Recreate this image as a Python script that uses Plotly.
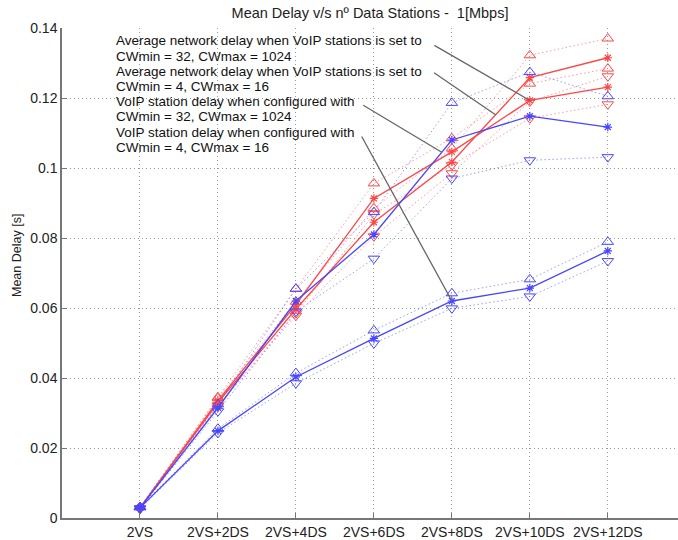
import plotly.graph_objects as go

categories = ["2VS", "2VS+2DS", "2VS+4DS", "2VS+6DS", "2VS+8DS", "2VS+10DS", "2VS+12DS"]
xpos = [1, 2, 3, 4, 5, 6, 7]

# Average network delay, VoIP CWmin=32, CWmax=1024
net_cw32_mean = [0.0029, 0.0335, 0.0610, 0.0913, 0.1046, 0.1193, 0.1231]
net_cw32_up   = [0.0031, 0.0345, 0.0655, 0.0956, 0.1085, 0.1241, 0.1284]
net_cw32_down = [0.0027, 0.0322, 0.0585, 0.0868, 0.1008, 0.1142, 0.1182]

# Average network delay, VoIP CWmin=4, CWmax=16
net_cw4_mean = [0.0029, 0.0330, 0.0597, 0.0845, 0.1017, 0.1258, 0.1315]
net_cw4_up   = [0.0031, 0.0342, 0.0618, 0.0885, 0.1056, 0.1322, 0.1370]
net_cw4_down = [0.0027, 0.0320, 0.0578, 0.0805, 0.0985, 0.1190, 0.1262]

# VoIP station delay, CWmin=32, CWmax=1024
voip_cw32_mean = [0.0029, 0.0315, 0.0620, 0.0810, 0.1080, 0.1148, 0.1117]
voip_cw32_up   = [0.0031, 0.0325, 0.0655, 0.0874, 0.1186, 0.1274, 0.1205]
voip_cw32_down = [0.0027, 0.0305, 0.0590, 0.0741, 0.0970, 0.1022, 0.1031]

# VoIP station delay, CWmin=4, CWmax=16
voip_cw4_mean = [0.0029, 0.0249, 0.0403, 0.0513, 0.0620, 0.0657, 0.0763]
voip_cw4_up   = [0.0031, 0.0255, 0.0414, 0.0536, 0.0642, 0.0682, 0.0789]
voip_cw4_down = [0.0027, 0.0243, 0.0385, 0.0499, 0.0599, 0.0633, 0.0734]

note_lines = [
    "Average network delay when VoIP stations is set to",
    "CWmin = 32, CWmax = 1024",
    "Average network delay when VoIP stations is set to",
    "CWmin = 4, CWmax = 16",
    "VoIP station delay when configured with",
    "CWmin = 32, CWmax = 1024",
    "VoIP station delay when configured with",
    "CWmin = 4, CWmax = 16",
]

RED = "rgb(255,70,70)"
RED_L = "rgba(255,90,90,0.6)"
BLUE = "rgb(70,70,255)"
BLUE_L = "rgba(90,90,255,0.6)"
FONT = "Liberation Sans, Arial, sans-serif"
DOT = "1.5px,2.5px"

fig = go.Figure()


def add_group(mean, up, down, col, col_l):
    fig.add_trace(go.Scatter(x=xpos, y=up, mode="lines+markers",
                             line=dict(color=col_l, width=1, dash=DOT),
                             marker=dict(symbol="triangle-up-open", size=10,
                                         color=col, line=dict(width=1, color=col))))
    fig.add_trace(go.Scatter(x=xpos, y=down, mode="lines+markers",
                             line=dict(color=col_l, width=1, dash=DOT),
                             marker=dict(symbol="triangle-down-open", size=10,
                                         color=col, line=dict(width=1, color=col))))
    fig.add_trace(go.Scatter(x=xpos, y=mean, mode="lines+markers",
                             line=dict(color=col, width=1.3),
                             marker=dict(symbol="asterisk-open", size=7,
                                         color=col, line=dict(width=1.2, color=col))))


add_group(net_cw32_mean, net_cw32_up, net_cw32_down, RED, RED_L)
add_group(net_cw4_mean, net_cw4_up, net_cw4_down, RED, RED_L)
add_group(voip_cw32_mean, voip_cw32_up, voip_cw32_down, BLUE, BLUE_L)
add_group(voip_cw4_mean, voip_cw4_up, voip_cw4_down, BLUE, BLUE_L)

annotations = []
# text block
for i, t in enumerate(note_lines):
    ypix = 41 + i * 15.2
    annotations.append(dict(
        text=t, xref="paper", yref="paper",
        x=(114 - 62) / 616, y=(518 - ypix) / 490,
        xanchor="left", yanchor="middle", showarrow=False,
        font=dict(family=FONT, size=13.5, color="#111")))


def interp(arr, i, f):
    return arr[i] + f * (arr[i + 1] - arr[i])


arrows = [
    (xpos[5], net_cw32_mean[5], -97, -56),
    (xpos[4] + 0.56, interp(net_cw4_mean, 4, 0.56), -63, -43),
    (xpos[3] + 0.87, interp(voip_cw32_mean, 3, 0.87), -80, -48),
    (xpos[4], voip_cw4_mean[4], -91, -166),
]
for (ax_x, ax_y, dx, dy) in arrows:
    annotations.append(dict(
        x=ax_x, y=ax_y, xref="x", yref="y", text="", showarrow=True,
        arrowhead=0, arrowwidth=1.3, arrowcolor="#666", ax=dx, ay=dy,
        standoff=0, startstandoff=0))

# y axis title
annotations.append(dict(
    text="Mean Delay [s]", xref="paper", yref="paper",
    x=(17 - 62) / 616, y=(518 - 256) / 490, textangle=-90,
    showarrow=False, xanchor="center", yanchor="middle",
    font=dict(family=FONT, size=12.5, color="#222")))

fig.update_layout(
    width=678, height=540,
    margin=dict(l=62, r=0, t=28, b=22),
    paper_bgcolor="white", plot_bgcolor="white",
    showlegend=False,
    title=dict(text="Mean Delay v/s n\u00ba Data Stations -  1[Mbps]",
               x=0.5, xref="paper", y=1 - 13 / 540, yref="container",
               xanchor="center", yanchor="middle",
               font=dict(family=FONT, size=14.5, color="#222")),
    annotations=annotations,
    font=dict(family=FONT),
)

fig.update_xaxes(
    range=[0, 7.9], tickvals=xpos, ticktext=categories,
    showline=True, linecolor="#777", linewidth=1.5,
    ticks="inside", ticklen=5, tickcolor="#777",
    showgrid=True, gridcolor="#999", griddash="1px,3px", gridwidth=1,
    zeroline=False, tickfont=dict(family=FONT, size=14, color="#222"),
)
fig.update_yaxes(
    range=[0, 0.14], dtick=0.02, tick0=0,
    showline=True, linecolor="#777", linewidth=1.5,
    ticks="inside", ticklen=5, tickcolor="#777",
    showgrid=True, gridcolor="#999", griddash="1px,3px", gridwidth=1,
    zeroline=False, tickfont=dict(family=FONT, size=14, color="#222"),
)

fig.write_html("out.html",
               config={"displayModeBar": False},
               post_script="document.body.style.margin='0';document.body.style.padding='0';")
